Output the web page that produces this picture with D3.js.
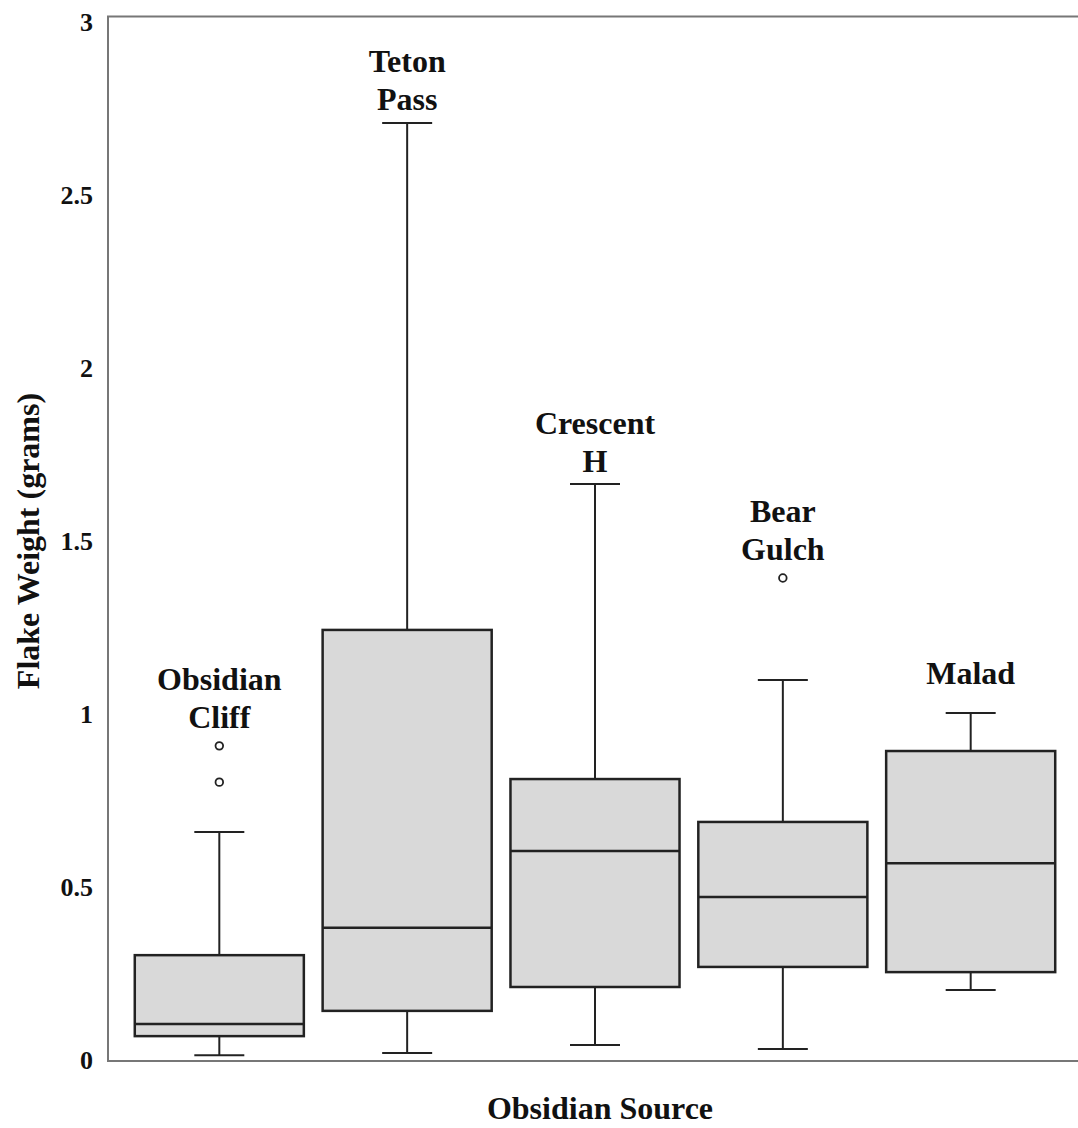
<!DOCTYPE html>
<html>
<head>
<meta charset="utf-8">
<script src="https://cdn.jsdelivr.net/npm/d3@7"></script>
<style>
  body { margin: 0; background: #fff; }
  text { font-family: "Liberation Serif", "Times New Roman", serif; font-weight: bold; fill: #111; }
</style>
</head>
<body>
<div id="chart"></div>
<script>
// box plot stats (grams)
const sources = ["Obsidian Cliff", "Teton Pass", "Crescent H", "Bear Gulch", "Malad"];
const labelLines = [["Obsidian", "Cliff"], ["Teton", "Pass"], ["Crescent", "H"], ["Bear", "Gulch"], ["Malad"]];
const whiskerLow = [0.014, 0.02, 0.043, 0.032, 0.202];
const q1 = [0.069, 0.142, 0.211, 0.269, 0.254];
const median = [0.104, 0.382, 0.604, 0.471, 0.569];
const q3 = [0.303, 1.243, 0.812, 0.688, 0.893];
const whiskerHigh = [0.659, 2.708, 1.665, 1.098, 1.003];
const outliers = [[0.803, 0.908], [], [], [1.393], []];
// where the last line of each source label sits (grams)
const labelAt = [0.991, 2.777, 1.731, 1.477, 1.118];
const yTicks = [0, 0.5, 1, 1.5, 2, 2.5, 3];
const yTickLabels = ["0", "0.5", "1", "1.5", "2", "2.5", "3"];

const width = 1078, height = 1128;
const margin = {top: 22, left: 108, bottom: 68};

const svg = d3.select("#chart").append("svg")
    .attr("width", width)
    .attr("height", height);

const y = d3.scaleLinear()
    .domain([0, 3])
    .range([height - margin.bottom, margin.top]);

const x = d3.scaleBand()
    .domain(sources)
    .range([116, 1074])
    .padding(0.1);

// frame: left, top, bottom (right edge runs off the page)
const frameTop = margin.top - 5.5;
const frameBottom = y(0) + 1;
svg.append("path")
    .attr("d", `M${width + 2},${frameTop}H${margin.left}V${frameBottom}H${width + 2}`)
    .attr("fill", "none")
    .attr("stroke", "#777")
    .attr("stroke-width", 2);

// y tick labels (no tick marks in the original)
svg.append("g")
    .selectAll("text")
    .data(yTicks)
    .join("text")
    .attr("x", 93)
    .attr("y", d => y(d))
    .attr("dy", "0.35em")
    .attr("text-anchor", "end")
    .attr("font-size", 26)
    .text((d, i) => yTickLabels[i]);

const boxes = svg.append("g")
    .selectAll("g")
    .data(sources)
    .join("g");

const bw = x.bandwidth();
const cx = s => x(s) + bw / 2;
const capHalf = 25;

boxes.each(function (s, i) {
  const g = d3.select(this);
  const c = cx(s);

  // whiskers
  g.append("line")
      .attr("x1", c).attr("x2", c)
      .attr("y1", y(whiskerHigh[i])).attr("y2", y(q3[i]))
      .attr("stroke", "#222").attr("stroke-width", 2);
  g.append("line")
      .attr("x1", c).attr("x2", c)
      .attr("y1", y(q1[i])).attr("y2", y(whiskerLow[i]))
      .attr("stroke", "#222").attr("stroke-width", 2);
  [whiskerHigh[i], whiskerLow[i]].forEach(v => {
    g.append("line")
        .attr("x1", c - capHalf).attr("x2", c + capHalf)
        .attr("y1", y(v)).attr("y2", y(v))
        .attr("stroke", "#222").attr("stroke-width", 2);
  });

  // box
  g.append("rect")
      .attr("x", x(s))
      .attr("y", y(q3[i]))
      .attr("width", bw)
      .attr("height", y(q1[i]) - y(q3[i]))
      .attr("fill", "#d9d9d9")
      .attr("stroke", "#222")
      .attr("stroke-width", 2.5);

  // median
  g.append("line")
      .attr("x1", x(s)).attr("x2", x(s) + bw)
      .attr("y1", y(median[i])).attr("y2", y(median[i]))
      .attr("stroke", "#222").attr("stroke-width", 2.5);

  // outliers
  g.selectAll("circle")
      .data(outliers[i])
      .join("circle")
      .attr("cx", c)
      .attr("cy", d => y(d))
      .attr("r", 3.8)
      .attr("fill", "#fff")
      .attr("stroke", "#222")
      .attr("stroke-width", 1.8);

  // source label
  const lines = labelLines[i];
  g.selectAll("text.lbl")
      .data(lines)
      .join("text")
      .attr("class", "lbl")
      .attr("x", c)
      .attr("y", (d, j) => y(labelAt[i]) - (lines.length - 1 - j) * 38)
      .attr("dy", "0.35em")
      .attr("text-anchor", "middle")
      .attr("font-size", 32)
      .text(d => d);
});

// axis titles
svg.append("text")
    .attr("transform", `translate(28, ${(y(0) + y(3)) / 2}) rotate(-90)`)
    .attr("dy", "0.35em")
    .attr("text-anchor", "middle")
    .attr("font-size", 32)
    .text("Flake Weight (grams)");

svg.append("text")
    .attr("x", 600)
    .attr("y", 1108)
    .attr("dy", "0.35em")
    .attr("text-anchor", "middle")
    .attr("font-size", 32)
    .text("Obsidian Source");
</script>
</body>
</html>
